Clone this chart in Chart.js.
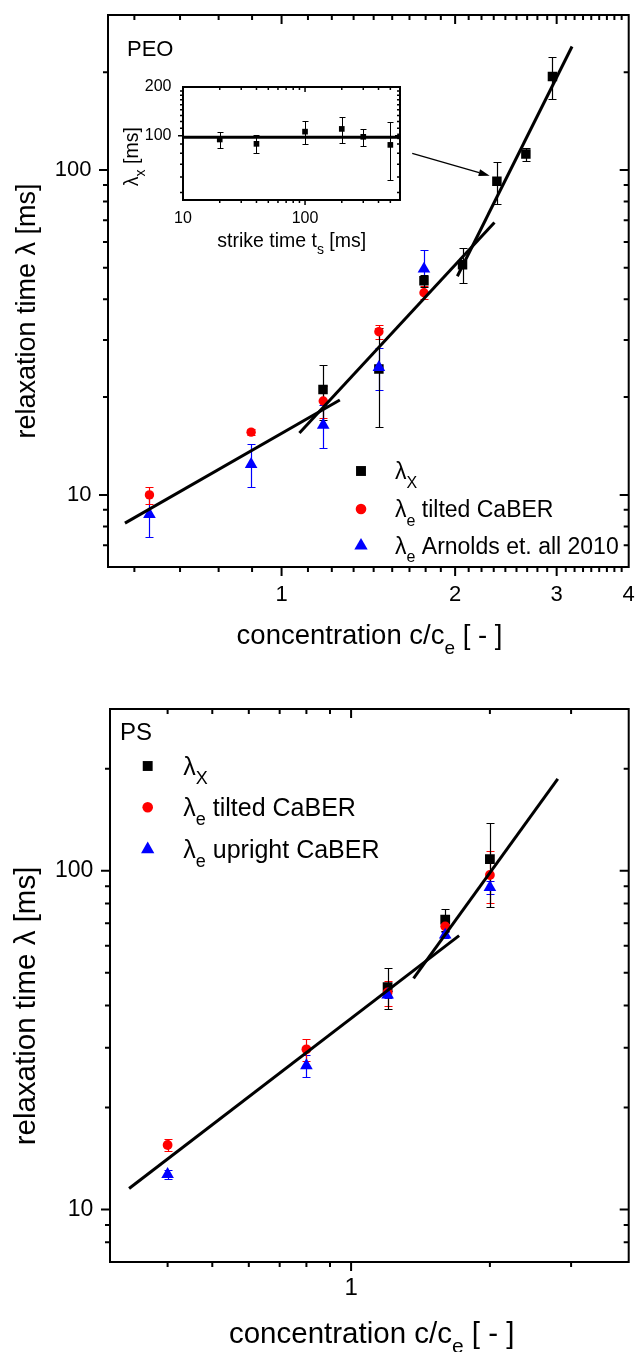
<!DOCTYPE html>
<html>
<head>
<meta charset="utf-8">
<script src="https://cdn.jsdelivr.net/npm/chart.js@4/dist/chart.umd.min.js"></script>
<style>
  html, body { margin: 0; padding: 0; background: #fff; }
  #page { position: relative; width: 636px; height: 1352px; overflow: hidden; background: #fff; }
  canvas { position: absolute; display: block; }
</style>
</head>
<body>
<div id="page">
  <canvas id="peo" width="636" height="676" style="left:0;top:0"></canvas>
  <canvas id="inset" width="330" height="200" style="left:90px;top:70px"></canvas>
  <canvas id="ps" width="636" height="676" style="left:0;top:676px"></canvas>
</div>
<script>
const FONT = '"Liberation Sans", Arial, Helvetica, sans-serif';
Chart.defaults.font.family = FONT;
Chart.defaults.color = '#000';
Chart.defaults.animation = false;

// ---------- PEO ----------
const peoConc = [0.59, 0.8855, 1.181, 1.475, 1.766];
const peoTilted = [10.0, 15.6, 19.45, 31.8, 41.9];
const peoTiltedErr = [0.6, 0.3, 2.15, 1.6, 1.95];
const peoArnolds = [8.71, 12.43, 16.4, 24.7, 49.6];
const peoArnoldsErr = [1.29, 1.87, 2.5, 3.7, 7.2];
const peoXConc = [1.18, 1.475, 1.766, 2.06, 2.363, 2.653, 2.95];
const peoLambdaX = [21.1, 24.4, 45.6, 51.1, 92.3, 112, 194];
const peoLambdaXErr = [4.1, 8.2, 2, 6.3, 13.7, 5.1, 28];
// power-law fits, end points
const peoFitLow = [[0.535, 8.19], [1.262, 19.6]];
const peoFitMid = [[1.074, 15.5], [2.34, 68.9]];
const peoFitHigh = [[2.018, 47.1], [3.19, 240]];
// arrow from the inset to the point it details
const peoArrow = [[1.685, 112.5], [2.296, 96.1]];
const peoXLabels = [1, 2, 3, 4];
const peoYLabels = [10, 100];

// ---------- inset: lambda_X vs strike time ----------
const strikeTime = [20, 40, 100, 200, 300, 500, 600];
const strikeLambda = [94.7, 89.0, 105.9, 110.1, 98.4, 87.7, 99];
const strikeLambdaErr = [10.6, 11.4, 16.5, 19.9, 11.5, 34.6, 0];
const strikeMean = 97.6;
const insetXLabels = [10, 100];
const insetYLabels = [100, 200];

// ---------- PS ----------
const psConc = [0.4, 0.8, 1.2, 1.6, 2.0];
const psTilted = [15.5, 29.7, 43.7, 68.5, 97.1];
const psTiltedErr = [0.6, 2.2, 3.7, 2, 17];
const psUpright = [12.7, 26.6, 43.0, 64.6, 89.3];
const psUprightErr = [0.4, 2.05, 1, 1.5, 3.9];
const psXConc = [1.2, 1.6, 2.0];
const psLambdaX = [45.3, 71.7, 108.1];
const psLambdaXErr = [6.35, 5.2, 30.2];
const psFitLow = [[0.33, 11.53], [1.715, 64.3]];
const psFitHigh = [[1.366, 48.1], [2.807, 186.6]];
const psXLabels = [1];
const psYLabels = [10, 100];

const zip = (xs, ys) => xs.map((x, i) => ({ x, y: ys[i] }));
const pairs = (p) => p.map(([x, y]) => ({ x, y }));

// minor ticks splitting each unit into ninths
function ninths(lo, hi) {
  const out = [];
  for (let n = Math.ceil(lo * 9); n <= Math.floor(hi * 9); n++) {
    if (n % 9 !== 0) out.push(n / 9);
  }
  return out;
}
// 2..9 multiples inside each decade
function decadeMinors(lo, hi) {
  const out = [];
  for (let d = Math.floor(Math.log10(lo)); d <= Math.ceil(Math.log10(hi)); d++) {
    for (let m = 2; m <= 9; m++) {
      const v = m * Math.pow(10, d);
      if (v > lo * 1.0001 && v < hi * 0.9999) out.push(v);
    }
  }
  return out;
}
function hundredNinths(lo, hi) {
  const out = [];
  for (let n = Math.ceil(lo * 9 / 100); n <= Math.floor(hi * 9 / 100); n++) {
    const v = n * 100 / 9;
    if (n % 9 !== 0 && v > lo && v < hi) out.push(v);
  }
  return out;
}

function drawRich(ctx, parts, x, y, size, align) {
  const fontOf = (p) => (p.sub ? Math.round(size * 0.7) : size) + 'px ' + FONT;
  let w = 0;
  parts.forEach((p) => { ctx.font = fontOf(p); w += ctx.measureText(p.t).width; });
  let cx = align === 'center' ? x - w / 2 : x;
  ctx.textAlign = 'left';
  ctx.textBaseline = 'alphabetic';
  parts.forEach((p) => {
    ctx.font = fontOf(p);
    ctx.fillText(p.t, cx, p.sub ? y + size * 0.36 : y);
    cx += ctx.measureText(p.t).width;
  });
}

// box around the plot with Origin-like ticks: outward on bottom/left, inward on top/right
const axisFrame = {
  id: 'axisFrame',
  afterDatasetsDraw(chart, args, o) {
    const { ctx, chartArea: a } = chart;
    const xs = chart.scales.x, ys = chart.scales.y;
    ctx.save();
    ctx.strokeStyle = '#000';
    ctx.lineWidth = o.tickWidth;
    ctx.beginPath();
    const xTick = (v, len) => {
      const px = xs.getPixelForValue(v);
      if (px < a.left + 1 || px > a.right - 1) return;
      ctx.moveTo(px, a.bottom); ctx.lineTo(px, a.bottom + len);
      ctx.moveTo(px, a.top); ctx.lineTo(px, a.top + len);
    };
    const yTick = (v, len) => {
      const py = ys.getPixelForValue(v);
      if (py < a.top + 1 || py > a.bottom - 1) return;
      ctx.moveTo(a.left - len, py); ctx.lineTo(a.left, py);
      ctx.moveTo(a.right - len, py); ctx.lineTo(a.right, py);
    };
    o.xMajor.forEach((v) => xTick(v, o.major));
    o.xMinor.forEach((v) => xTick(v, o.minor));
    o.yMajor.forEach((v) => yTick(v, o.major));
    o.yMinor.forEach((v) => yTick(v, o.minor));
    ctx.stroke();
    ctx.lineWidth = o.lineWidth;
    ctx.strokeRect(a.left, a.top, a.right - a.left, a.bottom - a.top);
    ctx.restore();
  }
};

const errorBars = {
  id: 'errorBars',
  beforeDatasetsDraw(chart, args, o) {
    const { ctx, chartArea: a } = chart;
    const xs = chart.scales.x, ys = chart.scales.y;
    ctx.save();
    ctx.beginPath();
    ctx.rect(a.left, a.top, a.right - a.left, a.bottom - a.top);
    ctx.clip();
    chart.data.datasets.forEach((ds) => {
      if (!ds.errors) return;
      ctx.strokeStyle = ds.borderColor;
      ctx.lineWidth = o.width;
      ds.data.forEach((p, j) => {
        const e = ds.errors[j];
        if (!e) return;
        const px = Math.round(xs.getPixelForValue(p.x)) + 0.5;
        const top = Math.round(ys.getPixelForValue(p.y + e)) + 0.5;
        const bot = Math.round(ys.getPixelForValue(p.y - e)) + 0.5;
        ctx.beginPath();
        ctx.moveTo(px, top); ctx.lineTo(px, bot);
        ctx.moveTo(px - o.cap, top); ctx.lineTo(px + o.cap, top);
        ctx.moveTo(px - o.cap, bot); ctx.lineTo(px + o.cap, bot);
        ctx.stroke();
      });
    });
    ctx.restore();
  }
};

// titles, panel tag, legend and arrow
const decorations = {
  id: 'decorations',
  afterDraw(chart, args, o) {
    const ctx = chart.ctx;
    const xs = chart.scales.x, ys = chart.scales.y;
    ctx.save();
    ctx.fillStyle = '#000';
    (o.texts || []).forEach((t) => {
      if (t.rotate) {
        ctx.save();
        ctx.translate(t.x, t.y);
        ctx.rotate(-Math.PI / 2);
        drawRich(ctx, t.parts, 0, 0, t.size, t.align);
        ctx.restore();
      } else {
        drawRich(ctx, t.parts, t.x, t.y, t.size, t.align);
      }
    });
    if (o.legend) {
      const L = o.legend;
      L.items.forEach((it, i) => {
        const y = L.rows[i];
        ctx.fillStyle = it.color;
        Chart.helpers.drawPoint(ctx, {
          pointStyle: it.style, radius: it.radius, rotation: 0, borderWidth: 0
        }, L.markerX, y);
        ctx.fillStyle = '#000';
        drawRich(ctx, it.parts, L.textX, y + L.baseline, L.size, 'left');
      });
    }
    if (o.arrow) {
      const [p0, p1] = o.arrow;
      const x0 = xs.getPixelForValue(p0[0]), y0 = ys.getPixelForValue(p0[1]);
      const x1 = xs.getPixelForValue(p1[0]), y1 = ys.getPixelForValue(p1[1]);
      const ang = Math.atan2(y1 - y0, x1 - x0);
      const hl = 11, hw = 3.5;
      ctx.strokeStyle = '#000';
      ctx.lineWidth = 1.3;
      ctx.beginPath();
      ctx.moveTo(x0, y0);
      ctx.lineTo(x1 - hl * Math.cos(ang), y1 - hl * Math.sin(ang));
      ctx.stroke();
      ctx.beginPath();
      ctx.moveTo(x1, y1);
      ctx.lineTo(x1 - hl * Math.cos(ang) + hw * Math.sin(ang), y1 - hl * Math.sin(ang) - hw * Math.cos(ang));
      ctx.lineTo(x1 - hl * Math.cos(ang) - hw * Math.sin(ang), y1 - hl * Math.sin(ang) + hw * Math.cos(ang));
      ctx.closePath();
      ctx.fill();
    }
    ctx.restore();
  }
};

function fitSet(points) {
  return {
    data: pairs(points), showLine: true, borderColor: '#000', borderWidth: 3,
    pointRadius: 0, order: 0
  };
}
function markSet(xs, ys, errs, style, radius, color, order) {
  return {
    data: zip(xs, ys), errors: errs, showLine: false,
    pointStyle: style, pointRadius: radius, backgroundColor: color, borderColor: color,
    pointBorderWidth: 0, order
  };
}
function logAxis(min, max, labels, fontSize, padding, fit, isX) {
  return {
    type: 'logarithmic', min, max,
    grid: { display: false, drawTicks: false },
    border: { display: false },
    afterBuildTicks: (s) => { s.ticks = labels.map((v) => ({ value: v })); },
    ticks: {
      font: { size: fontSize }, padding, maxRotation: 0, autoSkip: false,
      callback: (v) => String(v)
    },
    afterFit: (s) => {
      // plot box is placed by the layout padding alone
      s.paddingTop = s.paddingBottom = s.paddingLeft = s.paddingRight = 0;
      if (isX) s.height = fit; else s.width = fit;
    }
  };
}
const subE = [{ t: '\u03bb' }, { t: 'e', sub: true }];

new Chart(document.getElementById('peo'), {
  type: 'scatter',
  data: {
    datasets: [
      fitSet(peoFitLow), fitSet(peoFitMid), fitSet(peoFitHigh),
      markSet(peoConc, peoArnolds, peoArnoldsErr, 'triangle', 7.3, '#0000ff', 1),
      markSet(peoConc, peoTilted, peoTiltedErr, 'circle', 4.7, '#ff0000', 2),
      markSet(peoXConc, peoLambdaX, peoLambdaXErr, 'rect', 6.7, '#000000', 3)
    ]
  },
  options: {
    responsive: false,
    layout: { padding: { top: 15, right: 5, left: 0, bottom: 0 } },
    plugins: {
      legend: { display: false },
      tooltip: { enabled: false },
      errorBars: { width: 1.2, cap: 4 },
      axisFrame: {
        lineWidth: 2, tickWidth: 2, major: 9, minor: 5,
        xMajor: peoXLabels, xMinor: ninths(0.5, 4),
        yMajor: peoYLabels, yMinor: decadeMinors(6, 300)
      },
      decorations: {
        texts: [
          { parts: [{ t: 'PEO' }], x: 127, y: 56, size: 22 },
          { parts: [{ t: 'concentration c/c' }, { t: 'e', sub: true }, { t: ' [ - ]' }], x: 369.5, y: 644, size: 27.5, align: 'center' },
          { parts: [{ t: 'relaxation time \u03bb [ms]' }], x: 34.5, y: 311, size: 27, align: 'center', rotate: true }
        ],
        legend: {
          markerX: 361, textX: 395, rows: [471, 509, 545.7], baseline: 8.3, size: 23,
          items: [
            { style: 'rect', radius: 7, color: '#000000', parts: [{ t: '\u03bb' }, { t: 'X', sub: true }] },
            { style: 'circle', radius: 5.3, color: '#ff0000', parts: subE.concat([{ t: ' tilted CaBER' }]) },
            { style: 'triangle', radius: 7.7, color: '#0000ff', parts: subE.concat([{ t: ' Arnolds et. all 2010' }]) }
          ]
        },
        arrow: peoArrow
      }
    },
    scales: {
      x: logAxis(0.5, 4, peoXLabels, 22, 14.5, 109, true),
      y: logAxis(6, 300, peoYLabels, 22, 16.5, 108, false)
    }
  },
  plugins: [errorBars, axisFrame, decorations]
});

// the last strike time sits on the right border and is cut by the plot box
const insetMarks = markSet(strikeTime, strikeLambda, strikeLambdaErr, 'rect', 4, '#000000', 1);
insetMarks.clip = 0;

new Chart(document.getElementById('inset'), {
  type: 'scatter',
  data: {
    datasets: [
      fitSet([[10, strikeMean], [600, strikeMean]]),
      insetMarks
    ]
  },
  options: {
    responsive: false,
    layout: { padding: { top: 17, right: 20, left: 0, bottom: 0 } },
    plugins: {
      legend: { display: false },
      tooltip: { enabled: false },
      errorBars: { width: 1, cap: 3 },
      axisFrame: {
        lineWidth: 2, tickWidth: 1.5, major: 5, minor: 3,
        xMajor: insetXLabels, xMinor: decadeMinors(10, 600),
        yMajor: insetYLabels, yMinor: hundredNinths(40, 200)
      },
      decorations: {
        texts: [
          { parts: [{ t: 'strike time t' }, { t: 's', sub: true }, { t: ' [ms]' }], x: 201.7, y: 176.7, size: 19.5, align: 'center' },
          { parts: [{ t: '\u03bb' }, { t: 'x', sub: true }, { t: ' [ms]' }], x: 48, y: 86.7, size: 19.5, align: 'center', rotate: true }
        ]
      }
    },
    scales: {
      x: logAxis(10, 600, insetXLabels, 16, 8.5, 70, true),
      y: logAxis(40, 200, insetYLabels, 16, 11.5, 93, false)
    }
  },
  plugins: [errorBars, axisFrame, decorations]
});

new Chart(document.getElementById('ps'), {
  type: 'scatter',
  data: {
    datasets: [
      fitSet(psFitLow), fitSet(psFitHigh),
      markSet(psConc, psUpright, psUprightErr, 'triangle', 7.3, '#0000ff', 1),
      markSet(psConc, psTilted, psTiltedErr, 'circle', 4.9, '#ff0000', 2),
      markSet(psXConc, psLambdaX, psLambdaXErr, 'rect', 6.9, '#000000', 3)
    ]
  },
  options: {
    responsive: false,
    layout: { padding: { top: 33, right: 3, left: 0, bottom: 0 } },
    plugins: {
      legend: { display: false },
      tooltip: { enabled: false },
      errorBars: { width: 1.2, cap: 4 },
      axisFrame: {
        lineWidth: 2, tickWidth: 2, major: 9, minor: 5,
        xMajor: psXLabels, xMinor: decadeMinors(0.3, 4),
        yMajor: psYLabels, yMinor: decadeMinors(7, 300)
      },
      decorations: {
        texts: [
          { parts: [{ t: 'PS' }], x: 120, y: 64, size: 24 },
          { parts: [{ t: 'concentration c/c' }, { t: 'e', sub: true }, { t: ' [ - ]' }], x: 371.7, y: 666.7, size: 29.5, align: 'center' },
          { parts: [{ t: 'relaxation time \u03bb [ms]' }], x: 34.5, y: 330, size: 29.5, align: 'center', rotate: true }
        ],
        legend: {
          markerX: 147.7, textX: 183.3, rows: [90, 131.3, 173.3], baseline: 8.7, size: 25,
          items: [
            { style: 'rect', radius: 7, color: '#000000', parts: [{ t: '\u03bb' }, { t: 'X', sub: true }] },
            { style: 'circle', radius: 5.3, color: '#ff0000', parts: subE.concat([{ t: ' tilted CaBER' }]) },
            { style: 'triangle', radius: 7.7, color: '#0000ff', parts: subE.concat([{ t: ' upright CaBER' }]) }
          ]
        }
      }
    },
    scales: {
      x: logAxis(0.3, 4, psXLabels, 24, 11.5, 90, true),
      y: logAxis(7, 300, psYLabels, 23, 16.7, 110, false)
    }
  },
  plugins: [errorBars, axisFrame, decorations]
});
</script>
</body>
</html>
